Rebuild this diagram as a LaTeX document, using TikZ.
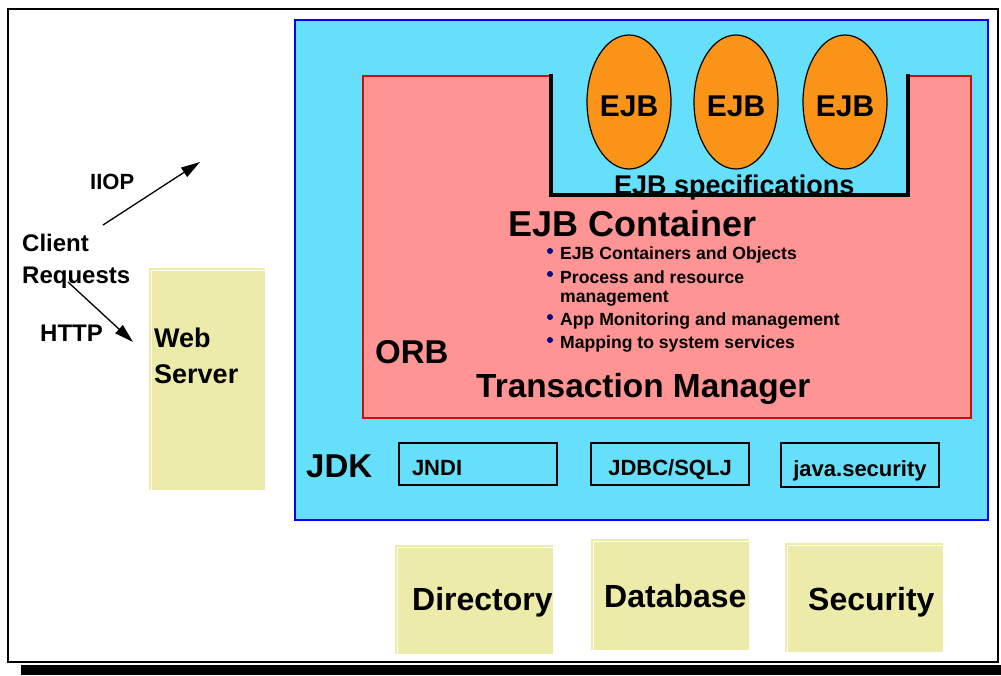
\documentclass[tikz,border=0pt]{standalone}
\usepackage{fontspec}
\setmainfont{Liberation Sans}
\usetikzlibrary{arrows.meta}
\usetikzlibrary{shapes.geometric}
\pgfdeclarelayer{edgelayer}
\pgfdeclarelayer{nodelayer}
\pgfsetlayers{edgelayer,nodelayer,main}
\definecolor{jdkcyan}{RGB}{102,224,250}
\definecolor{orbpink}{RGB}{255,148,148}
\definecolor{orbred}{RGB}{200,16,10}
\definecolor{beanorange}{RGB}{250,148,25}
\definecolor{svcyellow}{RGB}{237,235,170}
\definecolor{dotnavy}{RGB}{0,0,128}
\newcommand{\ptbold}[1]{\fontsize{#1}{#1}\selectfont\bfseries}
\tikzstyle{page_frame}=[rectangle,draw=black,line width=2pt,inner sep=0]
\tikzstyle{page_shadow}=[rectangle,fill=black,inner sep=0]
\tikzstyle{jdk_box}=[rectangle,fill=jdkcyan,draw=blue,line width=2.5pt,inner sep=0]
\tikzstyle{container_box}=[rectangle,fill=orbpink,draw=orbred,line width=2pt,inner sep=0]
\tikzstyle{spec_well}=[rectangle,fill=jdkcyan,inner sep=0]
\tikzstyle{spec_rim}=[draw=black,line width=4pt,line join=miter]
\tikzstyle{ejb_bean}=[ellipse,fill=beanorange,draw=black,line width=1.2pt,minimum width=84pt,minimum height=134pt,inner sep=0,text height=28pt,text depth=0pt,font=\ptbold{30}]
\tikzstyle{api_box}=[rectangle,fill=jdkcyan,draw=black,line width=2pt,minimum width=158pt,minimum height=42pt,inner xsep=0,text height=22pt,text depth=0pt,font=\ptbold{22}]
\tikzstyle{server_box}=[rectangle,fill=svcyellow,inner sep=0,path picture={\draw[white,line width=1pt] ([xshift=2.5pt]path picture bounding box.south west) |- ([yshift=-2.5pt]path picture bounding box.north east);}]
\tikzstyle{bullet_dot}=[circle,fill=dotnavy,minimum size=6pt,inner sep=0]
\tikzstyle{txt}=[anchor=base west,inner sep=0]
\tikzstyle{request}=[-{Triangle[length=19pt,width=11pt]},draw=black,line width=1.3pt]

\begin{document}
\begin{tikzpicture}[x=1pt,y=-1pt]
	\useasboundingbox (0,0) rectangle (1001,675);
	\begin{pgfonlayer}{nodelayer}
		\node [style=page_frame, minimum width=990pt, minimum height=653pt] (0) at (503,335.5) {};
		\node [style=page_shadow, minimum width=980pt, minimum height=10pt] (1) at (511,670) {};
		\node [style=jdk_box, minimum width=693pt, minimum height=500pt] (2) at (641.5,270) {};
		\node [style=container_box, minimum width=608pt, minimum height=342pt] (3) at (667,247) {};
		\node [style=spec_well, minimum width=357pt, minimum height=121pt] (4) at (729.5,134.5) {};
		\draw [style=spec_rim] (4.north west) -- (4.south west) -- (4.south east) -- (4.north east);
		\node [style=ejb_bean] (5) at (629,102) {EJB};
		\node [style=ejb_bean] (6) at (736,102) {EJB};
		\node [style=ejb_bean] (7) at (845,102) {EJB};
		\node [style=txt, font=\ptbold{27}] (8) at (614,194) {EJB specifications};
		\node [style=txt, font=\ptbold{36}] (9) at (508,236) {EJB Container};
		\node [style=txt, font=\ptbold{17.6}] (10) at (560,259) {EJB Containers and Objects};
		\node [style=txt, font=\ptbold{17.6}] (11) at (560,283) {Process and resource};
		\node [style=txt, font=\ptbold{17.6}] (12) at (560,302) {management};
		\node [style=txt, font=\ptbold{17.6}] (13) at (560,325) {App Monitoring and management};
		\node [style=txt, font=\ptbold{17.6}] (14) at (560,348) {Mapping to system services};
		\node [style=bullet_dot] (15) at (550,251) {};
		\node [style=bullet_dot] (16) at (550,274) {};
		\node [style=bullet_dot] (17) at (550,317) {};
		\node [style=bullet_dot] (18) at (550,340) {};
		\node [style=txt, font=\ptbold{33}] (19) at (375,363) {ORB};
		\node [style=txt, font=\ptbold{33.4}] (20) at (476,397) {Transaction Manager};
		\node [style=txt, font=\ptbold{33}] (21) at (306,477) {JDK};
		\node [style=api_box, text width=132pt, align=left] (22) at (478,464) {JNDI};
		\node [style=api_box] (23) at (670,464) {JDBC/SQLJ};
		\node [style=api_box, minimum height=44pt] (24) at (860,465) {java.security};
		\node [style=server_box, minimum width=158pt, minimum height=109pt] (25) at (474,599.5) {};
		\node [style=server_box, minimum width=158pt, minimum height=111pt] (26) at (670,594.5) {};
		\node [style=server_box, minimum width=158pt, minimum height=109pt] (27) at (864,597.5) {};
		\node [style=txt, font=\ptbold{32}] (28) at (412,610) {Directory};
		\node [style=txt, font=\ptbold{32}] (29) at (604,607) {Database};
		\node [style=txt, font=\ptbold{32}] (30) at (808,610) {Security};
		\node [style=server_box, minimum width=116pt, minimum height=222pt] (31) at (207,379) {};
		\node [style=txt, font=\ptbold{27}] (32) at (154,347) {Web};
		\node [style=txt, font=\ptbold{27}] (33) at (154,383) {Server};
		\node [style=txt, font=\ptbold{24}] (34) at (22,251) {Client};
		\node [style=txt, font=\ptbold{24}] (35) at (22,283) {Requests};
		\node [style=txt, font=\ptbold{22}] (36) at (90,189) {IIOP};
		\node [style=txt, font=\ptbold{24}] (37) at (40,341) {HTTP};
		\coordinate (38) at (103,225);
		\coordinate (39) at (200,162);
		\coordinate (40) at (68,282);
		\coordinate (41) at (133,342);
	\end{pgfonlayer}
	\begin{pgfonlayer}{edgelayer}
		\draw [style=request] (38) to (39);
		\draw [style=request] (40) to (41);
	\end{pgfonlayer}
\end{tikzpicture}
\end{document}
